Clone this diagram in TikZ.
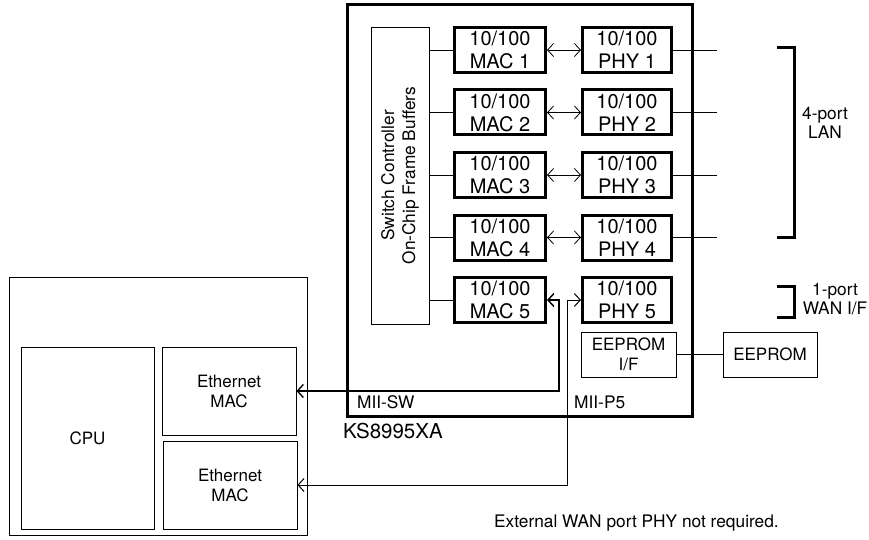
\documentclass[tikz,border=0pt]{standalone}
\usepackage{fontspec}
\setmainfont{TeX Gyre Heros}
\usetikzlibrary{arrows.meta}
\tikzset{
  >={Straight Barb[length=6pt,width=13pt]},
  portbox/.style={draw, line width=3pt, minimum height=45pt, inner sep=0pt,
    align=center, font=\fontsize{20}{23}\selectfont},
  macbox/.style={portbox, minimum width=91pt},
  phybox/.style={portbox, minimum width=89pt},
  thinbox/.style={draw, line width=0.8pt, inner sep=0pt, align=center,
    font=\fontsize{17}{20}\selectfont},
  lbl/.style={inner sep=0pt, align=center, font=\fontsize{17.3}{19}\selectfont},
  wire/.style={line width=0.8pt},
}
\begin{document}
\begin{tikzpicture}[x=1pt,y=-1pt]
    \useasboundingbox (0,0) rectangle (869,540);
    % KS8995XA chip
    \draw[line width=3pt] (347,5) rectangle (692,416);
    \node[thinbox, minimum width=58pt, minimum height=297pt] (sw) at (400,175.5) {};
    \node[lbl, rotate=90, font=\fontsize{17.3}{21}\selectfont] at (sw.center) {Switch Controller\\On-Chip Frame Buffers};
    \node[macbox] (mac1) at (500,50) {10/100\\MAC 1};
    \node[macbox] (mac2) at (500,112.5) {10/100\\MAC 2};
    \node[macbox] (mac3) at (500,175) {10/100\\MAC 3};
    \node[macbox] (mac4) at (500,237.5) {10/100\\MAC 4};
    \node[macbox] (mac5) at (500,300) {10/100\\MAC 5};
    \node[phybox] (phy1) at (627,50) {10/100\\PHY 1};
    \node[phybox] (phy2) at (627,112.5) {10/100\\PHY 2};
    \node[phybox] (phy3) at (627,175) {10/100\\PHY 3};
    \node[phybox] (phy4) at (627,237.5) {10/100\\PHY 4};
    \node[phybox] (phy5) at (627,300) {10/100\\PHY 5};
    \node[thinbox, minimum width=95pt, minimum height=45pt] (eepif) at (628.5,354.5) {EEPROM\\I/F};
    \node[thinbox, minimum width=94pt, minimum height=45pt] (eeprom) at (770,354.5) {EEPROM};
    \node[lbl, anchor=west] (miisw) at (357,402) {MII-SW};
    \node[lbl, anchor=west] (miip5) at (574,402) {MII-P5};
    \node[lbl, anchor=west, font=\fontsize{20.5}{23}\selectfont] (chipname) at (343,431) {KS8995XA};
    % host
    \draw[line width=0.8pt] (9,277) rectangle (307,535);
    \node[thinbox, minimum width=133pt, minimum height=182pt] (cpu) at (87.5,438) {CPU};
    \node[thinbox, minimum width=134pt, minimum height=88pt] (eth1) at (229,391) {Ethernet\\MAC};
    \node[thinbox, minimum width=134pt, minimum height=88pt] (eth2) at (230,485) {Ethernet\\MAC};
    % ports
    \coordinate (lan1) at (717,50);
    \coordinate (lan2) at (717,112.5);
    \coordinate (lan3) at (717,175);
    \coordinate (lan4) at (717,237.5);
    \draw[line width=3pt] (777,48) -- (794,48) -- (794,237) -- (777,237);
    \draw[line width=3pt] (777,286) -- (794,286) -- (794,317) -- (777,317);
    \node[lbl] (lan) at (825,123) {4-port\\LAN};
    \node[lbl] (wan) at (835,299) {1-port\\WAN I/F};
    \node[lbl, anchor=base west] (note) at (494,527) {External WAN port PHY not required.};
    % connections
    \draw[wire] (mac1.west) -- (sw.east |- mac1.west);
    \draw[wire] (mac2.west) -- (sw.east |- mac2.west);
    \draw[wire] (mac3.west) -- (sw.east |- mac3.west);
    \draw[wire] (mac4.west) -- (sw.east |- mac4.west);
    \draw[wire] (mac5.west) -- (sw.east |- mac5.west);
    \draw[wire,<->] (mac1.east) -- (phy1.west);
    \draw[wire,<->] (mac2.east) -- (phy2.west);
    \draw[wire,<->] (mac3.east) -- (phy3.west);
    \draw[wire,<->] (mac4.east) -- (phy4.west);
    \draw[wire] (phy1.east) -- (lan1);
    \draw[wire] (phy2.east) -- (lan2);
    \draw[wire] (phy3.east) -- (lan3);
    \draw[wire] (phy4.east) -- (lan4);
    \draw[wire] (eepif.east) -- (eeprom.west);
    \draw[line width=1.4pt,<->] (mac5.east) -- ++(12,0) |- (eth1.east);
    \draw[line width=1pt,<->] (phy5.west) -- ++(-14,0) |- (eth2.east);
\end{tikzpicture}
\end{document}
